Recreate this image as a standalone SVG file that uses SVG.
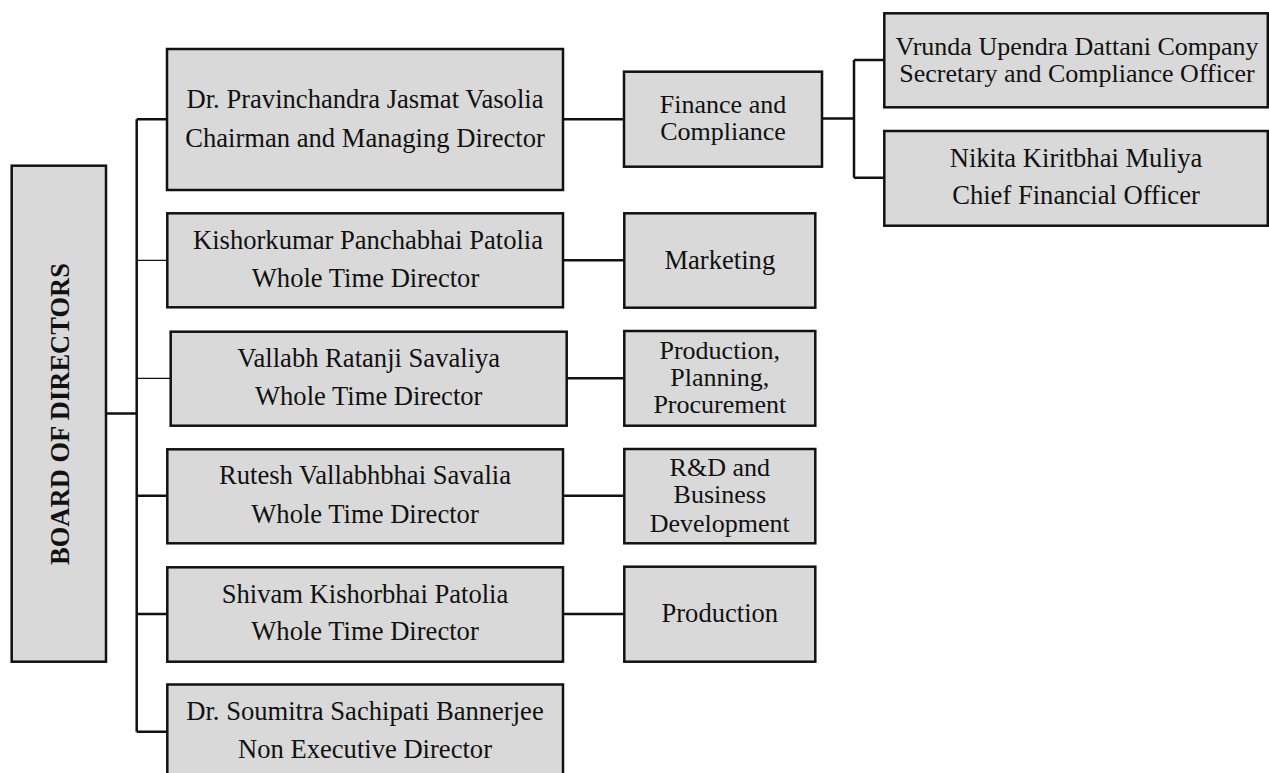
<svg xmlns="http://www.w3.org/2000/svg" width="1269" height="773" viewBox="0 0 1269 773">
<style>
.box{fill:#d9d9d9;stroke:#111;stroke-width:2.5}
.t{font-family:"Liberation Serif","Times New Roman",serif;font-size:26.6px;fill:#111;text-anchor:middle}
.s{font-size:26px}
.b{font-weight:bold;font-size:26.5px}
.c{stroke:#111;stroke-width:2.5;fill:none}
.thin{stroke:#111;stroke-width:1.2;fill:none}
</style>
<rect width="1269" height="773" fill="#fff"/>
<g id="connectors">
<path class="c" d="M106 413.5H136.7M136.7 119.3V731.7M136.7 119.3H167M136.7 495.7H167M136.7 614H167M136.7 731.7H167"/>
<path class="thin" d="M136.7 260.3H167M136.7 378.3H170.7"/>
<path class="c" d="M563 119.3H624M563 260.3H624M566.7 378.3H624M563 495.7H624M563 614H624"/>
<path class="c" d="M822 118.5H854M854 60V177.7M854 60H884M854 177.7H884"/>
</g>
<g id="board">
<rect class="box" x="11.7" y="165.7" width="94.3" height="496"/>
<text class="t b" transform="translate(68.5 414) rotate(-90)">BOARD OF DIRECTORS</text>
</g>
<g id="chairman">
<rect class="box" x="167" y="49" width="396" height="141"/>
<text class="t" x="365" y="108.3">Dr. Pravinchandra Jasmat Vasolia</text>
<text class="t" x="365" y="146.7">Chairman and Managing Director</text>
</g>
<g id="kishorkumar">
<rect class="box" x="167.3" y="213.3" width="395.7" height="94"/>
<text class="t" x="368" y="249.3">Kishorkumar Panchabhai Patolia</text>
<text class="t" x="365.5" y="287.3">Whole Time Director</text>
</g>
<g id="vallabh">
<rect class="box" x="170.7" y="331.7" width="396" height="94"/>
<text class="t" x="368.7" y="366.7">Vallabh Ratanji Savaliya</text>
<text class="t" x="368.7" y="405">Whole Time Director</text>
</g>
<g id="rutesh">
<rect class="box" x="167.3" y="449.3" width="395.7" height="94"/>
<text class="t" x="365" y="484">Rutesh Vallabhbhai Savalia</text>
<text class="t" x="365" y="523.3">Whole Time Director</text>
</g>
<g id="shivam">
<rect class="box" x="167.3" y="567.3" width="395.7" height="94.4"/>
<text class="t" x="365" y="602.7">Shivam Kishorbhai Patolia</text>
<text class="t" x="365" y="640">Whole Time Director</text>
</g>
<g id="soumitra">
<rect class="box" x="167.3" y="684.5" width="395.7" height="96"/>
<text class="t" x="365" y="720">Dr. Soumitra Sachipati Bannerjee</text>
<text class="t" x="365" y="758.3">Non Executive Director</text>
</g>
<g id="finance">
<rect class="box" x="624" y="71.7" width="198" height="95"/>
<text class="t s" x="723" y="113.3">Finance and</text>
<text class="t s" x="723" y="140">Compliance</text>
</g>
<g id="marketing">
<rect class="box" x="624.3" y="213.3" width="191" height="94.4"/>
<text class="t" x="719.8" y="269.3">Marketing</text>
</g>
<g id="production-planning">
<rect class="box" x="624.3" y="331" width="191" height="94.7"/>
<text class="t s" x="719.8" y="359">Production,</text>
<text class="t s" x="719.8" y="385.7">Planning,</text>
<text class="t s" x="719.8" y="413.3">Procurement</text>
</g>
<g id="rnd">
<rect class="box" x="624.3" y="449" width="191" height="94.3"/>
<text class="t s" x="719.8" y="476">R&amp;D and</text>
<text class="t s" x="719.8" y="503.3">Business</text>
<text class="t s" x="719.8" y="531.7">Development</text>
</g>
<g id="production">
<rect class="box" x="624.3" y="566.7" width="191" height="95"/>
<text class="t" x="719.8" y="621.7">Production</text>
</g>
<g id="vrunda">
<rect class="box" x="884.3" y="13.3" width="383.5" height="94"/>
<text class="t s" x="1077" y="55">Vrunda Upendra Dattani Company</text>
<text class="t s" x="1077" y="81.7">Secretary and Compliance Officer</text>
</g>
<g id="nikita">
<rect class="box" x="884.3" y="131" width="383.5" height="94.7"/>
<text class="t" x="1076" y="166.7">Nikita Kiritbhai Muliya</text>
<text class="t" x="1076" y="204">Chief Financial Officer</text>
</g>
</svg>
